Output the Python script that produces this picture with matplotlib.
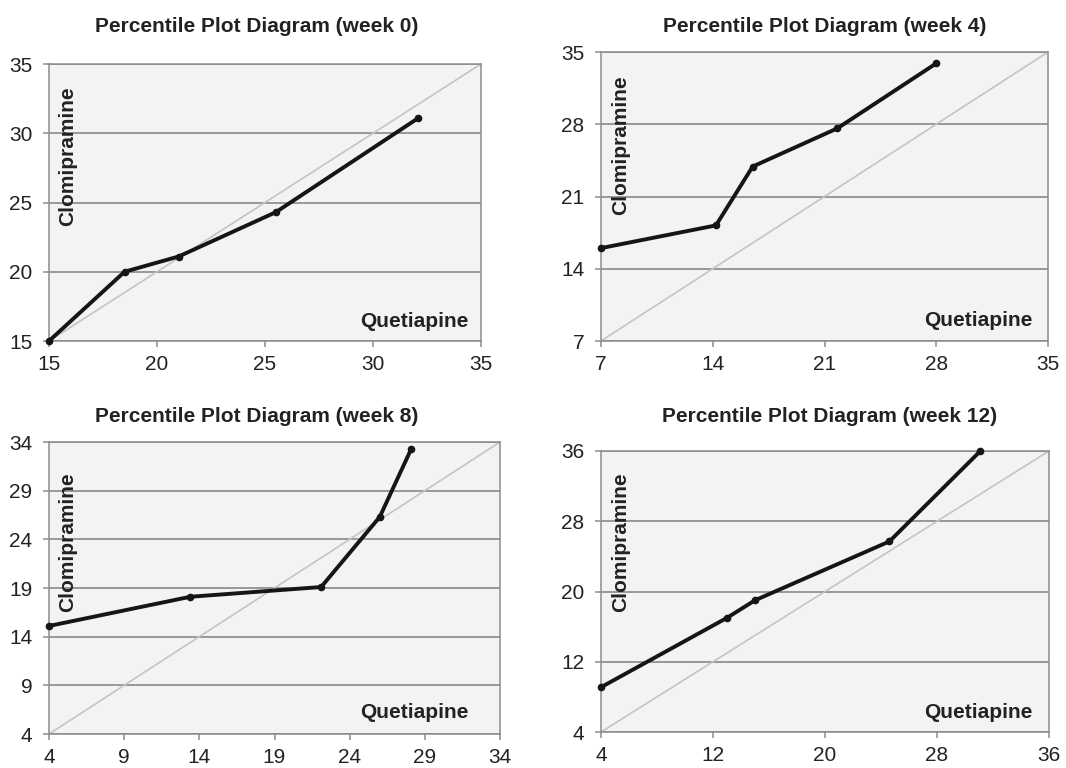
import matplotlib
matplotlib.use("Agg")
import matplotlib.pyplot as plt

plt.rcParams['font.family'] = ['Liberation Sans', 'DejaVu Sans']

W, H = 1066, 768

# week 0
q_w0 = [15, 18.5, 21.0, 25.5, 32.1]
c_w0 = [15, 20.0, 21.1, 24.3, 31.1]
ticks_w0 = [15, 20, 25, 30, 35]

# week 4
q_w4 = [7, 14.2, 16.5, 21.8, 28.0]
c_w4 = [16.0, 18.2, 23.9, 27.6, 33.9]
ticks_w4 = [7, 14, 21, 28, 35]

# week 8
q_w8 = [4, 13.4, 22.1, 26.0, 28.1]
c_w8 = [15.1, 18.1, 19.1, 26.3, 33.3]
ticks_w8 = [4, 9, 14, 19, 24, 29, 34]

# week 12
q_w12 = [4, 13.0, 15.0, 24.6, 31.1]
c_w12 = [9.1, 17.0, 19.0, 25.7, 36.0]
ticks_w12 = [4, 12, 20, 28, 36]

titles = ["Percentile Plot Diagram (week 0)", "Percentile Plot Diagram (week 4)",
          "Percentile Plot Diagram (week 8)", "Percentile Plot Diagram (week 12)"]


def fx(x):
    return x / W


def fy(y):
    return 1 - y / H


def panel(fig, box, q, c, ticks, title, title_xy, ylab_xy, xlab_xy):
    l, t, r, b = box
    ax = fig.add_axes([fx(l), fy(b), fx(r) - fx(l), fy(t) - fy(b)])
    ax.set_facecolor('#f3f3f3')
    lo, hi = ticks[0], ticks[-1]
    ax.set_xlim(lo, hi)
    ax.set_ylim(lo, hi)
    ax.set_xticks(ticks)
    ax.set_yticks(ticks)
    ax.grid(axis='y', color='#808080', lw=1.1)
    ax.set_axisbelow(True)
    for s in ax.spines.values():
        s.set_color('#8c8c8c')
        s.set_linewidth(1.1)
    ax.tick_params(colors='#8c8c8c', labelcolor='#222222', labelsize=15,
                   length=4, width=1.1)
    ax.tick_params(axis='x', pad=6)
    ax.tick_params(axis='y', pad=8)
    ax.plot([lo, hi], [lo, hi], color='#c4c4c4', lw=1.2, zorder=2)
    ax.plot(q, c, color='#151515', lw=2.8, marker='o', ms=4.5, zorder=3,
            clip_on=False)
    fig.text(fx(title_xy[0]), fy(title_xy[1]), title, ha='center', va='center',
             fontsize=15, fontweight='bold', color='#222222')
    fig.text(fx(ylab_xy[0]), fy(ylab_xy[1]), "Clomipramine", rotation=90,
             ha='center', va='center', fontsize=15, fontweight='bold',
             color='#222222')
    fig.text(fx(xlab_xy[0]), fy(xlab_xy[1]), "Quetiapine", ha='center',
             va='center', fontsize=15, fontweight='bold', color='#222222')
    return ax


fig = plt.figure(figsize=(W / 100, H / 100), dpi=100)

panel(fig, (49, 64, 481, 341), q_w0, c_w0, ticks_w0, titles[0],
      (257, 26), (68, 156), (414, 322))
panel(fig, (601, 52, 1048, 341), q_w4, c_w4, ticks_w4, titles[1],
      (825, 26), (621, 145), (978, 321))
panel(fig, (49, 442, 500, 734), q_w8, c_w8, ticks_w8, titles[2],
      (257, 417), (68, 542), (414, 713))
panel(fig, (601, 451, 1049, 732), q_w12, c_w12, ticks_w12, titles[3],
      (830, 417), (621, 542), (978, 713))

fig.savefig("out.png", dpi=100)
